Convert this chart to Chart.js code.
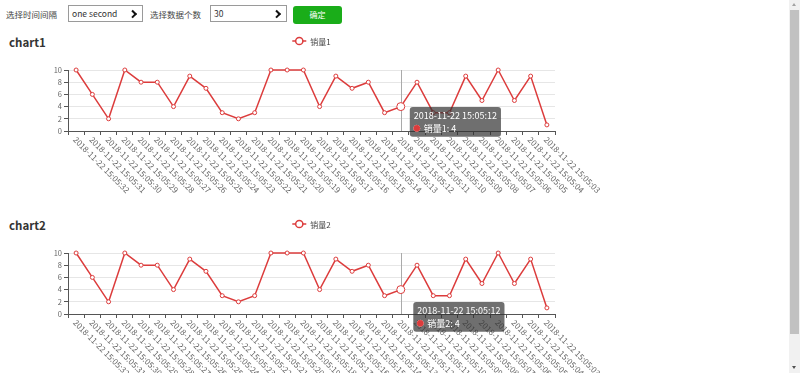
<!DOCTYPE html>
<html>
<head>
<meta charset="utf-8">
<script src="https://cdn.jsdelivr.net/npm/chart.js@4.4.0/dist/chart.umd.min.js"></script>
<style>
  html, body { margin:0; padding:0; background:#fff; width:800px; height:373px; overflow:hidden; }
  body { position:relative; font-family:"Noto Sans CJK SC","Noto Sans",sans-serif; color:#333; }
  .abs { position:absolute; }
  .lbl { font-size:8.5px; line-height:12px; color:#444; }
  .sel { border:1px solid #9a9a9a; box-sizing:border-box; background:#fff; font-size:8.5px; line-height:15px; color:#333; }
  .sel span.t { position:absolute; left:3px; top:0; }
  .sel span.a { position:absolute; right:7px; top:5px; width:3.5px; height:3.5px; border-right:2px solid #111; border-top:2px solid #111; transform:rotate(45deg); }
  .btn { background:#1aad19; color:#fff; border-radius:3px; font-size:8px; text-align:center; line-height:18px; }
  .ttl { font-size:11.5px; font-weight:bold; color:#333; line-height:14px; }
  canvas { position:absolute; left:0; }
  #track { left:789px; top:0; width:11px; height:373px; background:#f1f1f1; }
  #thumb { left:790px; top:10px; width:9px; height:324px; background:#c1c1c1; }
  .up { left:792px; top:3px; width:0; height:0; border-left:2.5px solid transparent; border-right:2.5px solid transparent; border-bottom:3px solid #a3a3a3; }
  .dn { left:792px; top:366px; width:0; height:0; border-left:2.5px solid transparent; border-right:2.5px solid transparent; border-top:3px solid #505050; }
</style>
</head>
<body>
<div class="abs lbl" style="left:6px;top:8px;">选择时间间隔</div>
<div class="abs sel" style="left:68px;top:5px;width:75px;height:17px;"><span class="t">one second</span><span class="a"></span></div>
<div class="abs lbl" style="left:150px;top:8px;">选择数据个数</div>
<div class="abs sel" style="left:210px;top:5px;width:77px;height:17px;"><span class="t">30</span><span class="a"></span></div>
<div class="abs btn" style="left:293px;top:6px;width:49px;height:18px;">确定</div>

<div class="abs ttl" style="left:9px;top:35px;">chart1</div>
<canvas id="c1" width="789" height="170" style="top:30px;"></canvas>
<div class="abs ttl" style="left:9px;top:218px;">chart2</div>
<canvas id="c2" width="789" height="160" style="top:213px;"></canvas>

<div id="track" class="abs"></div>
<div id="thumb" class="abs"></div>
<div class="abs up"></div>
<div class="abs dn"></div>

<script>
// ---- data ----
const categories = [
  '2018-11-22 15:05:32','2018-11-22 15:05:31','2018-11-22 15:05:30','2018-11-22 15:05:29',
  '2018-11-22 15:05:28','2018-11-22 15:05:27','2018-11-22 15:05:26','2018-11-22 15:05:25',
  '2018-11-22 15:05:24','2018-11-22 15:05:23','2018-11-22 15:05:22','2018-11-22 15:05:21',
  '2018-11-22 15:05:20','2018-11-22 15:05:19','2018-11-22 15:05:18','2018-11-22 15:05:17',
  '2018-11-22 15:05:16','2018-11-22 15:05:15','2018-11-22 15:05:14','2018-11-22 15:05:13',
  '2018-11-22 15:05:12','2018-11-22 15:05:11','2018-11-22 15:05:10','2018-11-22 15:05:09',
  '2018-11-22 15:05:08','2018-11-22 15:05:07','2018-11-22 15:05:06','2018-11-22 15:05:05',
  '2018-11-22 15:05:04','2018-11-22 15:05:03'
];
const sales1 = [10,6,2,10,8,8,4,9,7,3,2,3,10,10,10,4,9,7,8,3,4,8,3,3,9,5,10,5,9,1];
const sales2 = [10,6,2,10,8,8,4,9,7,3,2,3,10,10,10,4,9,7,8,3,4,8,3,3,9,5,10,5,9,1];
const yTicks = [0,2,4,6,8,10];
const seriesNames = ['销量1','销量2'];
const hoverIndex = 20;

// ---- styles ----
const RED = '#dc3c3c';
const FONT = '"Noto Sans CJK SC","Noto Sans",sans-serif';

Chart.Tooltip.positioners.tip1 = function(items) {
  if (!items.length) return false;
  const el = items[0].element;
  return { x: el.x + 12, y: el.y + 0.5 };
};
Chart.Tooltip.positioners.tip2 = function(items) {
  if (!items.length) return false;
  const el = items[0].element;
  return { x: el.x + 15.5, y: el.y + 12.5 };
};

const pointerPlugin = {
  id: 'pointer',
  beforeDatasetsDraw(chart) {
    const sx = chart.scales.x, a = chart.chartArea, ctx = chart.ctx;
    const x = Math.round(sx.getPixelForValue(hoverIndex)) + 0.5;
    ctx.save();
    ctx.strokeStyle = '#aaaaaa'; ctx.lineWidth = 1;
    ctx.beginPath(); ctx.moveTo(x, a.top); ctx.lineTo(x, a.bottom); ctx.stroke();
    ctx.restore();
  }
};

const labelsPlugin = {
  id: 'xlabels',
  afterDatasetsDraw(chart) {
    const sx = chart.scales.x, ctx = chart.ctx;
    ctx.save();
    ctx.font = '8.2px ' + FONT;
    ctx.fillStyle = '#666';
    ctx.textAlign = 'left'; ctx.textBaseline = 'middle';
    chart.data.labels.forEach((lab, i) => {
      const x = sx.getPixelForValue(i);
      ctx.save();
      ctx.translate(x - 1.5, sx.top + 7);
      ctx.rotate(Math.PI / 4);
      ctx.fillText(lab, 0, 0);
      ctx.restore();
    });
    // legend
    const a = chart.chartArea;
    const name = chart.data.datasets[0].label;
    ctx.font = '8px ' + FONT;
    const tw = ctx.measureText(name).width;
    const total = 14 + 4 + tw;
    const x0 = (a.left + a.right) / 2 - total / 2;
    const y = a.top - 29;
    ctx.strokeStyle = RED; ctx.lineWidth = 1.5;
    ctx.beginPath(); ctx.moveTo(x0, y); ctx.lineTo(x0 + 14, y); ctx.stroke();
    ctx.beginPath(); ctx.arc(x0 + 7, y, 3.6, 0, Math.PI * 2);
    ctx.fillStyle = '#fff'; ctx.fill(); ctx.stroke();
    ctx.fillStyle = '#444'; ctx.textAlign = 'left'; ctx.textBaseline = 'middle';
    ctx.fillText(name, x0 + 18, y + 0.5);
    ctx.restore();
  }
};

function makeChart(id, name, values, tipPos, xHeight) {
  const chart = new Chart(document.getElementById(id), {
    type: 'line',
    data: {
      labels: categories,
      datasets: [{
        label: name,
        data: values,
        borderColor: RED,
        borderWidth: 1.5,
        backgroundColor: '#fff',
        pointBackgroundColor: '#fff',
        pointBorderColor: RED,
        pointBorderWidth: 1,
        pointRadius: ctx => ctx.dataIndex === hoverIndex ? 4 : 2,
        pointHoverRadius: ctx => ctx.dataIndex === hoverIndex ? 4 : 2,
        tension: 0,
        fill: false,
        clip: false
      }]
    },
    options: {
      responsive: false,
      animation: false,
      events: [],
      layout: { padding: { left: 38, right: 234, top: 40, bottom: 0 } },
      scales: {
        x: {
          type: 'category',
          offset: true,
          grid: { drawOnChartArea: false, offset: true, tickLength: 4, tickColor: '#555', color: '#555' },
          border: { color: '#555', width: 1 },
          ticks: { display: false },
          afterFit(s) { s.height = xHeight; }
        },
        y: {
          min: 0, max: 10,
          afterBuildTicks(s) { s.ticks = yTicks.map(v => ({ value: v })); },
          ticks: { color: '#666', font: { size: 7.5, family: FONT }, padding: 2 },
          grid: { color: '#e6e6e6', tickColor: '#555', tickLength: 4, lineWidth: 1 },
          border: { color: '#555', width: 1 },
          afterFit(s) { s.width = 30; }
        }
      },
      plugins: {
        legend: { display: false },
        title: { display: false },
        tooltip: {
          enabled: true,
          position: tipPos,
          xAlign: 'left', yAlign: 'top',
          caretSize: 0, caretPadding: 0,
          backgroundColor: 'rgba(50,50,50,0.7)',
          cornerRadius: 3,
          padding: { x: 4, y: 3 },
          titleFont: { family: FONT, size: 9, weight: 'normal' },
          bodyFont: { family: FONT, size: 9 },
          titleColor: '#fff', bodyColor: '#fff',
          titleMarginBottom: 2,
          displayColors: true, usePointStyle: true,
          boxWidth: 6, boxHeight: 6, boxPadding: 2,
          callbacks: {
            labelColor: () => ({ borderColor: RED, backgroundColor: RED }),
            labelPointStyle: () => ({ pointStyle: 'circle', rotation: 0 })
          }
        }
      }
    },
    plugins: [pointerPlugin, labelsPlugin]
  });
  const el = chart.getDatasetMeta(0).data[hoverIndex];
  chart.tooltip.setActiveElements([{ datasetIndex: 0, index: hoverIndex }], { x: el.x, y: el.y });
  chart.draw();
  return chart;
}

makeChart('c1', seriesNames[0], sales1, 'tip1', 69);
makeChart('c2', seriesNames[1], sales2, 'tip2', 59);
</script>
</body>
</html>
